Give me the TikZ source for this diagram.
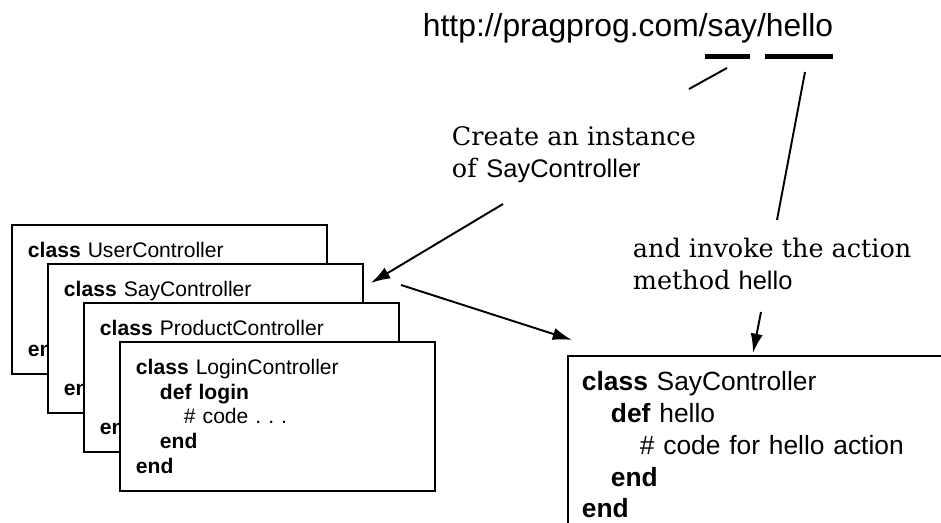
\documentclass[tikz,border=0pt]{standalone}
\usepackage{fontspec}
\setmainfont{DejaVu Serif}
\setsansfont{Liberation Sans}
\usetikzlibrary{positioning,arrows.meta}

\newcommand{\kw}[1]{\textbf{#1}}
\newcommand{\ind}{\hspace*{0.48cm}}
\newcommand{\bigind}{\hspace*{0.58cm}}

\begin{document}
\begin{tikzpicture}[>={Latex[length=11pt,width=7pt]},line width=1.1pt,
  ctlbox/.style={draw,fill=white,anchor=north west,align=left,text width=5.66cm,
    inner xsep=0.32cm,minimum height=2.98cm,font=\sffamily\fontsize{12}{14.2}\selectfont},
  bigbox/.style={draw,fill=white,anchor=north west,align=left,text width=7.44cm,
    inner xsep=0.28cm,inner ysep=0.3cm,font=\sffamily\fontsize{15}{18.2}\selectfont},
  note/.style={anchor=west,align=left,inner sep=0pt,font=\fontsize{14.5}{18}\selectfont},
  url/.style={anchor=west,inner sep=0pt,font=\sffamily\fontsize{18.1}{22}\selectfont},
  bar/.style={fill,inner sep=0pt,minimum height=0.1cm}]
  \useasboundingbox (0,0) rectangle (18.82,10.46);
  \clip (0,0) rectangle (18.82,10.46);

  % the request
  \node[url] (url) at (8.44,9.89) {http://pragprog.com/say/hello};
  \node[bar,minimum width=0.9cm] (saybar) at (14.55,9.32) {};
  \node[bar,minimum width=1.36cm] (hellobar) at (15.98,9.32) {};

  % stack of controllers
  \node[ctlbox] (ctl1) at (0.22,5.98) {\kw{class} UserController\\[1.5cm]\kw{end}};
  \node[ctlbox] (ctl2) [below right=0.78cm and 0.72cm of ctl1.north west]
    {\kw{class} SayController\\[1.5cm]\kw{end}};
  \node[ctlbox] (ctl3) [below right=0.78cm and 0.72cm of ctl2.north west]
    {\kw{class} ProductController\\[1.5cm]\kw{end}};
  \node[ctlbox] (ctl4) [below right=0.78cm and 0.72cm of ctl3.north west]
    {\kw{class} LoginController\\ \ind\kw{def login}\\ \ind\ind\# code .\ .\ .\\ \ind\kw{end}\\ \kw{end}};

  % the chosen one
  \node[bigbox] (sayctl) at (11.34,3.36)
    {\kw{class} SayController\\ \bigind\kw{def} hello\\ \bigind\bigind\# code for hello action\\ \bigind\kw{end}\\ \kw{end}};

  % labels
  \node[note] (create) at (9.02,7.36) {Create an instance\\of \textsf{SayController}};
  \node[note] (invoke) at (12.64,5.18) {and invoke the action\\method \textsf{hello}};

  \coordinate (say-a) at (14.54,9.10);
  \coordinate (say-b) at (13.78,8.68);
  \coordinate (create-out) at (10.06,6.38);
  \coordinate (ctl-in) at (7.42,4.80);
  \coordinate (ctl-out) at (8.02,4.76);
  \coordinate (act-in) at (11.44,3.66);
  \coordinate (hello-a) at (16.10,9.02);
  \coordinate (hello-b) at (15.54,6.06);
  \coordinate (invoke-out) at (15.22,4.22);
  \coordinate (def-in) at (15.06,3.40);

  \draw (say-a) -- (say-b);
  \draw[->] (create-out) -- (ctl-in);
  \draw[->] (ctl-out) -- (act-in);
  \draw (hello-a) -- (hello-b);
  \draw[->] (invoke-out) -- (def-in);
\end{tikzpicture}
\end{document}
